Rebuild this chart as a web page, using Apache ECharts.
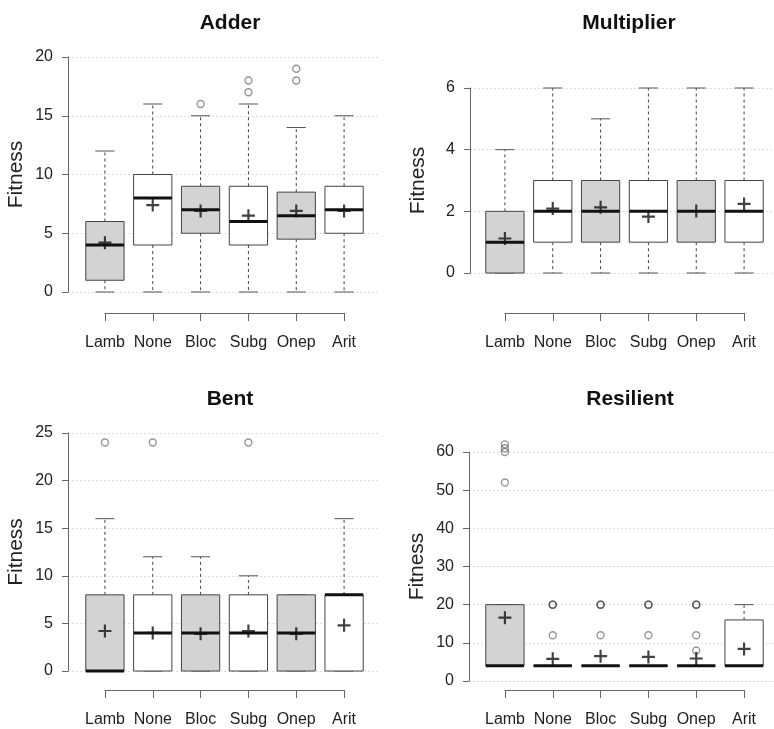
<!DOCTYPE html>
<html>
<head>
<meta charset="utf-8">
<script src="https://cdn.jsdelivr.net/npm/echarts@6/dist/echarts.min.js"></script>
<style>
  html, body { margin: 0; padding: 0; background: #fff; }
  #chart { width: 774px; height: 729px; }
</style>
</head>
<body>
<div id="chart"></div>
<script>
var categories = ['Lamb', 'None', 'Bloc', 'Subg', 'Onep', 'Arit'];

// each box: [min, Q1, median, Q3, max]
var adderBoxes = [[0, 1, 4, 6, 12], [0, 4, 8, 10, 16], [0, 5, 7, 9, 15], [0, 4, 6, 9, 16], [0, 4.5, 6.5, 8.5, 14], [0, 5, 7, 9, 15]];
var adderMeans = [4.2, 7.4, 6.9, 6.5, 6.9, 6.9];
var adderOutliers = [[], [], [16], [17, 18], [18, 19], []];

var multBoxes = [[0, 0, 1, 2, 4], [0, 1, 2, 3, 6], [0, 1, 2, 3, 5], [0, 1, 2, 3, 6], [0, 1, 2, 3, 6], [0, 1, 2, 3, 6]];
var multMeans = [1.12, 2.09, 2.13, 1.83, 2.01, 2.24];
var multOutliers = [[], [], [], [], [], []];

var bentBoxes = [[0, 0, 0, 8, 16], [0, 0, 4, 8, 12], [0, 0, 4, 8, 12], [0, 0, 4, 8, 10], [0, 0, 4, 8, 8], [0, 0, 8, 8, 16]];
var bentMeans = [4.2, 4.0, 3.9, 4.2, 3.9, 4.8];
var bentOutliers = [[24], [24], [], [24], [], []];

var resBoxes = [[4, 4, 4, 20, 20], [4, 4, 4, 4, 4], [4, 4, 4, 4, 4], [4, 4, 4, 4, 4], [4, 4, 4, 4, 4], [4, 4, 4, 16, 20]];
var resMeans = [16.6, 5.8, 6.5, 6.3, 5.9, 8.4];
var resOutliers = [[52, 60, 61, 62], [12, 20, 20, 20], [12, 20, 20, 20], [12, 20, 20, 20], [8, 12, 20, 20, 20], []];

var FONT = 'Liberation Sans, Arial, Helvetica, sans-serif';
var PLUS = 'path://M5,0H7V5H12V7H7V12H5V7H0V5H5Z';

var panels = [
  { title: 'Adder', boxes: adderBoxes, means: adderMeans, outliers: adderOutliers, max: 20, step: 5,
    axisX: 68, boxLeft: 81, top: 57, bottom: 292, right: 380, axisY: 313, titleX: 225, titleTop: 8 },
  { title: 'Multiplier', boxes: multBoxes, means: multMeans, outliers: multOutliers, max: 6, step: 2,
    axisX: 470, boxLeft: 481, top: 88, bottom: 273, right: 774, axisY: 313, titleX: 624, titleTop: 8 },
  { title: 'Bent', boxes: bentBoxes, means: bentMeans, outliers: bentOutliers, max: 25, step: 5,
    axisX: 68, boxLeft: 81, top: 433, bottom: 671, right: 380, axisY: 690, titleX: 225, titleTop: 384 },
  { title: 'Resilient', boxes: resBoxes, means: resMeans, outliers: resOutliers, max: 60, step: 10,
    axisX: 469, boxLeft: 481, top: 452, bottom: 681, right: 774, axisY: 690, titleX: 625, titleTop: 384 }
];

function renderBox(params, api) {
  var i = api.value(0);
  var lo = api.coord([i, api.value(1)]);
  var q1 = api.coord([i, api.value(2)]);
  var med = api.coord([i, api.value(3)]);
  var q3 = api.coord([i, api.value(4)]);
  var hi = api.coord([i, api.value(5)]);
  var band = api.size([1, 0])[0];
  var bw = band * 0.8, sw = band * 0.2;
  var cx = lo[0];
  var dash = { stroke: '#444', lineWidth: 1, lineDash: [3, 3] };
  var solid = { stroke: '#555', lineWidth: 1 };
  return {
    type: 'group',
    children: [
      { type: 'line', shape: { x1: cx, y1: q1[1], x2: cx, y2: lo[1] }, style: dash },
      { type: 'line', shape: { x1: cx, y1: q3[1], x2: cx, y2: hi[1] }, style: dash },
      { type: 'line', shape: { x1: cx - sw, y1: lo[1], x2: cx + sw, y2: lo[1] }, style: solid },
      { type: 'line', shape: { x1: cx - sw, y1: hi[1], x2: cx + sw, y2: hi[1] }, style: solid },
      { type: 'rect', shape: { x: cx - bw / 2, y: q3[1], width: bw, height: q1[1] - q3[1] },
        style: { fill: params.dataIndex % 2 === 0 ? '#d3d3d3' : '#ffffff', stroke: '#444', lineWidth: 1 } },
      { type: 'line', shape: { x1: cx - bw / 2, y1: med[1], x2: cx + bw / 2, y2: med[1] },
        style: { stroke: '#111', lineWidth: 3 } }
    ]
  };
}

var grid = [], xAxis = [], yAxis = [], series = [], title = [];

panels.forEach(function (p, n) {
  var g = 3 * n;
  var h = p.bottom - p.top;
  title.push({ text: p.title, left: p.titleX, top: p.titleTop, textAlign: 'center',
    textStyle: { fontFamily: FONT, fontSize: 21, fontWeight: 'bold', color: '#111' } });

  // frame: y axis and dotted guide lines
  grid.push({ left: p.axisX, top: p.top, width: p.right - p.axisX, height: h });
  xAxis.push({ gridIndex: g, type: 'value', show: false, min: 0, max: 1 });
  yAxis.push({ gridIndex: g, type: 'value', min: 0, max: p.max, interval: p.step,
    name: 'Fitness', nameLocation: 'middle', nameGap: 41,
    nameTextStyle: { fontFamily: FONT, fontSize: 21, color: '#222' },
    axisLine: { show: true, lineStyle: { color: '#666', width: 1 } },
    axisTick: { show: true, length: 6, lineStyle: { color: '#666' } },
    axisLabel: { fontFamily: FONT, fontSize: 16, color: '#222', margin: 15 },
    splitLine: { show: true, lineStyle: { color: '#ddd', type: [2, 2], width: 1 } } });

  // boxes
  grid.push({ left: p.boxLeft, top: p.top, width: 287, height: h });
  xAxis.push({ gridIndex: g + 1, type: 'category', data: categories, show: false });
  yAxis.push({ gridIndex: g + 1, type: 'value', min: 0, max: p.max, show: false });

  // detached category axis underneath
  grid.push({ left: p.boxLeft + 24, top: p.axisY - 1, width: 239, height: 1 });
  xAxis.push({ gridIndex: g + 2, type: 'category', data: categories, boundaryGap: false,
    axisLine: { show: true, lineStyle: { color: '#666', width: 1 } },
    axisTick: { show: true, length: 8, interval: 0, lineStyle: { color: '#666' } },
    axisLabel: { fontFamily: FONT, fontSize: 16, color: '#222', margin: 22, interval: 0 },
    splitLine: { show: false } });
  yAxis.push({ gridIndex: g + 2, type: 'value', show: false });

  series.push({
    type: 'custom', xAxisIndex: g + 1, yAxisIndex: g + 1, renderItem: renderBox,
    encode: { x: 0, y: [1, 2, 3, 4, 5] }, clip: false,
    data: p.boxes.map(function (b, k) { return [k].concat(b); })
  });
  var pts = [];
  p.outliers.forEach(function (list, k) {
    list.forEach(function (v) { pts.push([k, v]); });
  });
  series.push({
    type: 'scatter', xAxisIndex: g + 1, yAxisIndex: g + 1, clip: false, z: 3,
    symbol: 'circle', symbolSize: 7,
    itemStyle: { color: 'rgba(0,0,0,0)', borderColor: 'rgba(70,70,70,0.7)', borderWidth: 1.4 },
    data: pts
  });
  series.push({
    type: 'scatter', xAxisIndex: g + 1, yAxisIndex: g + 1, clip: false, z: 4,
    symbol: PLUS, symbolSize: 13, itemStyle: { color: '#111' },
    data: p.means.map(function (m, k) { return [k, m]; })
  });
});

var chart = echarts.init(document.getElementById('chart'));
chart.setOption({
  animation: false,
  backgroundColor: '#fff',
  title: title,
  grid: grid,
  xAxis: xAxis,
  yAxis: yAxis,
  series: series
});
</script>
</body>
</html>
